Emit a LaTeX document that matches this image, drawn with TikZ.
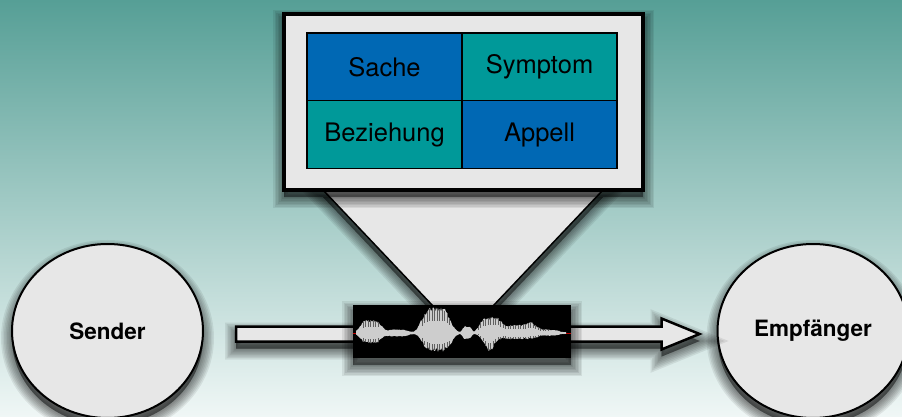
\documentclass[tikz,border=0pt]{standalone}
\usepackage{fontspec}
\setmainfont{TeX Gyre Heros}
\usetikzlibrary{shapes.geometric,calc}
\definecolor{bgtop}{RGB}{86,159,150}
\definecolor{bgbot}{RGB}{240,247,246}
\definecolor{paper}{RGB}{231,231,231}
\definecolor{cellblue}{RGB}{0,104,180}
\definecolor{cellteal}{RGB}{0,153,153}
\definecolor{wavegray}{RGB}{205,205,205}
\definecolor{stripe}{RGB}{95,95,95}
\tikzset{
  % soft drop shadow built from stacked translucent strokes
  shadowlayer/.style={preaction={draw=black, fill=black, opacity=0.075,
      line width=#1, transform canvas={yshift=-7pt}}},
  softshadow/.style={shadowlayer=22pt, shadowlayer=19pt, shadowlayer=16pt,
      shadowlayer=13pt, shadowlayer=10pt, shadowlayer=7pt, shadowlayer=4pt,
      shadowlayer=1pt},
  frame/.style={draw=black, line width=4pt, fill=paper, softshadow,
      minimum width=359pt, minimum height=176pt, inner sep=0pt},
  cell/.style={draw=black, line width=1.5pt, minimum width=155pt,
      minimum height=67.5pt, inner sep=0pt, font=\fontsize{25.5}{30}\selectfont},
  party/.style={ellipse, draw=black, line width=2pt, fill=paper, softshadow,
      minimum width=191pt, minimum height=174pt, inner sep=0pt,
      font=\fontsize{22.5}{27}\selectfont\bfseries},
  funnel/.style={draw=black, line width=1.5pt, fill=paper, softshadow},
  blockarrow/.style={draw=black, line width=2.5pt, fill=paper, softshadow,
      line join=miter},
  wavebox/.style={fill=black, minimum width=218pt, minimum height=53pt,
      inner sep=0pt, softshadow}
}
\begin{document}
\begin{tikzpicture}[x=1pt, y=-1pt,
  declare function={
    g(\x,\m,\s)=exp(-(min(abs((\x-\m)/\s),6))^2);
    h(\x,\m,\s)=exp(-(min(abs((\x-\m)/\s),4))^4);
    up(\x)=1+12*h(\x,371,12)+2.5*h(\x,397,12)+24*h(\x,436,16)+6*h(\x,467,5)
           +14*h(\x,490,12)+7*h(\x,520,22)+3*g(\x,531,5)+2*h(\x,552,8);
    dn(\x)=1+9*h(\x,371,12)+2.5*h(\x,397,12)+17*h(\x,437,16)+5*h(\x,467,5)
           +16*g(\x,489,7)+5*h(\x,518,24)+1.5*h(\x,552,8);
  }]
\useasboundingbox (0,0) rectangle (902,417);
\shade[top color=bgtop, bottom color=bgbot] (0,0) rectangle (902,417);

% corners of the zoom funnel
\coordinate (f1) at (323,190);
\coordinate (f2) at (603,190);
\coordinate (f3) at (493,306);
\coordinate (f4) at (433,306);
\draw[funnel] (f1) -- (f2) -- (f3) -- (f4) -- cycle;

% the four sides of a message
\node[frame] (frame) at (463.5,102) {};
\node[cell, fill=cellblue] (sache) at (384.5,67) {Sache};
\node[cell, fill=cellteal] (symptom) at (539.5,67) {Symptom};
\node[cell, fill=cellteal] (bez) at (384.5,134.5) {Beziehung};
\node[cell, fill=cellblue] (appell) at (539.5,134.5) {Appell};

% sender and receiver
\node[party] (sender) at (107.5,331) {Sender};
\node[party] (empf) at (813,331) {Empfänger};

% transmission arrow
\coordinate (a0) at ($(sender.east)+(32,3)$);
\coordinate (a1) at ($(empf.west)+(-17,3)$);
\draw[blockarrow] ($(a0)+(0,-7.5)$) -- ($(a1)+(-38,-7.5)$) -- ($(a1)+(-38,-15.5)$)
  -- (a1) -- ($(a1)+(-38,15.5)$) -- ($(a1)+(-38,7.5)$) -- ($(a0)+(0,7.5)$) -- cycle;

% speech signal
\node[wavebox] (wave) at (462,331.5) {};
\draw[red!75!black, line width=0.8pt] ($(wave.west)+(0,1.5)$) -- ($(wave.east)+(0,1.5)$);
\pgfmathsetseed{11}
\fill[wavegray]
  plot[domain=356:566, samples=211] (\x,{333-up(\x)*(0.82+0.25*rnd)})
  -- plot[domain=566:356, samples=211] (\x,{333+dn(\x)*(0.82+0.25*rnd)}) -- cycle;
\foreach \x in {363,365.5,...,380,422,424.5,...,450,478,480.5,...,548}{
  \pgfmathsetmacro{\u}{up(\x)}
  \pgfmathsetmacro{\d}{dn(\x)}
  \draw[stripe, line width=0.7pt] (\x,{333-0.97*\u}) -- (\x,{333-0.5*\u});
  \draw[stripe, line width=0.7pt] (\x,{333+0.97*\d}) -- (\x,{333+0.6*\d});
}
\end{tikzpicture}
\end{document}
